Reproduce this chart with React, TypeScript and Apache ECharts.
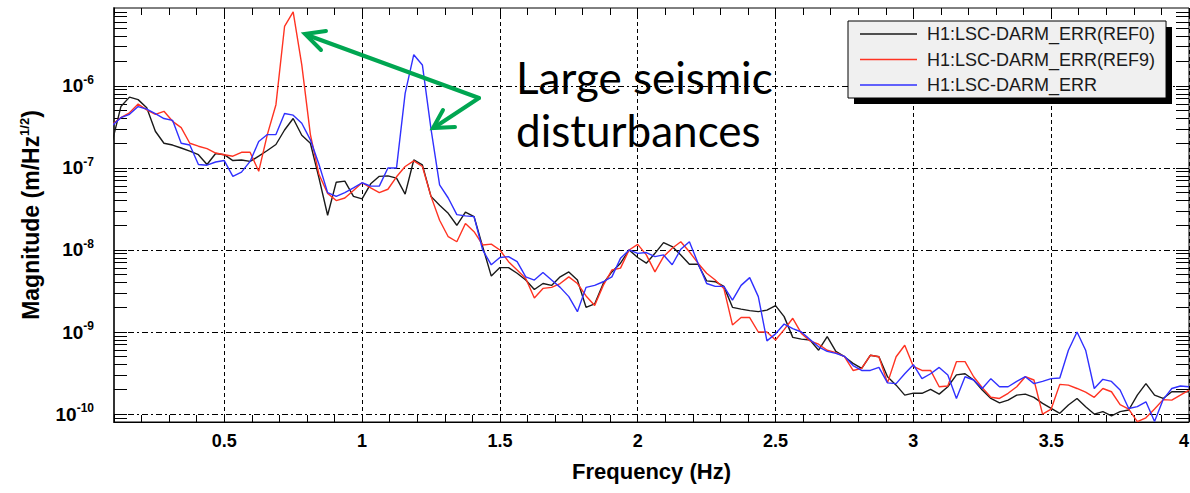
import React, { useEffect, useRef } from 'react';
import * as echarts from 'echarts';

// Spectrum bins: index k -> k/32 Hz, first bin k = 3
const FIRST_BIN = 3;
const BINS_PER_HZ = 32;

const SERIES_NAMES = ['H1:LSC-DARM_ERR(REF0)', 'H1:LSC-DARM_ERR(REF9)', 'H1:LSC-DARM_ERR'];
const SERIES_COLORS = ['#1a1a1a', '#ff3322', '#3030ff'];

const ref0 = [
  2.1e-7, 5.6e-7, 7.3e-7, 6.8e-7, 5.4e-7, 2.8e-7, 2.0e-7, 1.9e-7, 1.75e-7, 1.6e-7,
  1.45e-7, 1.1e-7, 1.5e-7, 1.45e-7, 1.23e-7, 1.25e-7, 1.2e-7, 1.39e-7, 1.63e-7, 1.93e-7,
  2.9e-7, 4.0e-7, 2.5e-7, 2.0e-7, 7.5e-8, 2.65e-8, 6.7e-8, 6.9e-8, 4.5e-8, 4.2e-8,
  6.4e-8, 7.9e-8, 8.0e-8, 7.5e-8, 4.8e-8, 1.25e-7, 1.09e-7, 4.5e-8, 3.5e-8, 2.8e-8,
  2.0e-8, 2.9e-8, 2.55e-8, 1.1e-8, 4.8e-9, 6.1e-9, 6.1e-9, 5.2e-9, 4.3e-9, 3.3e-9,
  3.9e-9, 3.7e-9, 4.7e-9, 5.4e-9, 4.3e-9, 2.0e-9, 2.2e-9, 3.9e-9, 5.4e-9, 6.9e-9,
  1.0e-8, 8.1e-9, 6.9e-9, 9.1e-9, 1.23e-8, 1.1e-8, 8.7e-9, 6.7e-9, 6.7e-9, 4.2e-9,
  4.1e-9, 3.6e-9, 2.0e-9, 1.9e-9, 1.82e-9, 1.77e-9, 1.85e-9, 2.1e-9, 1.54e-9, 8.6e-10,
  8.2e-10, 8.0e-10, 6.0e-10, 8.8e-10, 5.8e-10, 5.0e-10, 4.15e-10, 3.6e-10, 5.2e-10, 5.0e-10,
  2.85e-10, 2.25e-10, 1.7e-10, 1.8e-10, 1.79e-10, 2.0e-10, 1.75e-10, 2.15e-10, 3.0e-10, 3.1e-10,
  2.6e-10, 1.96e-10, 1.55e-10, 1.37e-10, 1.48e-10, 1.7e-10, 1.75e-10, 1.6e-10, 1.35e-10, 1.17e-10,
  1.02e-10, 1.29e-10, 1.55e-10, 1.23e-10, 1.0e-10, 1.07e-10, 9.5e-11, 1.07e-10, 1.12e-10, 1.7e-10,
  2.35e-10, 1.7e-10, 1.55e-10, 1.87e-10, 1.87e-10, 1.87e-10,
];

const ref9 = [
  3.4e-7, 4.1e-7, 4.7e-7, 6.0e-7, 5.1e-7, 4.5e-7, 4.9e-7, 3.7e-7, 3.1e-7, 2.0e-7,
  1.84e-7, 1.72e-7, 1.52e-7, 1.45e-7, 1.39e-7, 1.55e-7, 1.55e-7, 9.1e-8, 2.55e-7, 5.9e-7,
  5.3e-6, 8.0e-6, 1.8e-6, 2.55e-7, 8.3e-8, 4.9e-8, 4.0e-8, 4.3e-8, 5.3e-8, 6.6e-8,
  5.7e-8, 5.0e-8, 5.5e-8, 7.8e-8, 1.04e-7, 1.22e-7, 1.04e-7, 4.5e-8, 2.3e-8, 1.45e-8,
  1.26e-8, 2.1e-8, 1.67e-8, 1.15e-8, 1.18e-8, 1.0e-8, 7.2e-9, 5.7e-9, 4.5e-9, 2.6e-9,
  3.4e-9, 3.5e-9, 3.9e-9, 4.7e-9, 3.9e-9, 2.75e-9, 2.1e-9, 3.7e-9, 5.7e-9, 6.0e-9,
  1.0e-8, 1.17e-8, 8.7e-9, 5.4e-9, 8.3e-9, 1.05e-8, 1.26e-8, 9.5e-9, 6.9e-9, 5.2e-9,
  4.3e-9, 3.4e-9, 1.22e-9, 1.5e-9, 1.5e-9, 1.0e-9, 1.0e-9, 8.0e-10, 1.07e-9, 1.47e-9,
  9.6e-10, 7.8e-10, 7.1e-10, 6.0e-10, 5.6e-10, 5.0e-10, 3.4e-10, 3.6e-10, 5.2e-10, 5.0e-10,
  2.4e-10, 5.0e-10, 6.9e-10, 3.8e-10, 3.4e-10, 3.4e-10, 2.15e-10, 2.2e-10, 4.35e-10, 4.35e-10,
  2.85e-10, 2.1e-10, 1.6e-10, 1.55e-10, 1.79e-10, 2.15e-10, 2.85e-10, 2.6e-10, 1.0e-10, 1.15e-10,
  2.3e-10, 2.25e-10, 2.05e-10, 1.85e-10, 1.6e-10, 2.05e-10, 1.87e-10, 1.3e-10, 1.15e-10, 8.1e-11,
  9.0e-11, 1.15e-10, 1.5e-10, 1.48e-10, 1.7e-10, 1.96e-10,
];

const live = [
  3.3e-7, 4.1e-7, 4.5e-7, 5.6e-7, 5.2e-7, 4.6e-7, 4.0e-7, 3.8e-7, 2.0e-7, 1.9e-7,
  1.1e-7, 1.08e-7, 1.18e-7, 1.23e-7, 7.9e-8, 8.9e-8, 1.2e-7, 2.1e-7, 2.55e-7, 2.55e-7,
  4.6e-7, 4.4e-7, 3.5e-7, 2.2e-7, 1.1e-7, 5.0e-8, 4.5e-8, 5.0e-8, 5.7e-8, 6.6e-8,
  6.0e-8, 6.0e-8, 1.0e-7, 1.0e-7, 8.1e-7, 2.4e-6, 1.8e-6, 3.0e-7, 6.2e-8, 4.3e-8,
  2.7e-8, 2.6e-8, 2.55e-8, 1.0e-8, 6.6e-9, 8.1e-9, 8.3e-9, 7.2e-9, 4.7e-9, 4.3e-9,
  5.3e-9, 4.3e-9, 3.5e-9, 2.7e-9, 1.77e-9, 3.5e-9, 3.7e-9, 4.1e-9, 4.7e-9, 7.9e-9,
  1.0e-8, 9.1e-9, 9.3e-9, 8.3e-9, 8.7e-9, 6.6e-9, 1.02e-8, 1.26e-8, 6.9e-9, 3.9e-9,
  3.6e-9, 3.6e-9, 2.45e-9, 3.7e-9, 4.6e-9, 2.7e-9, 7.8e-10, 9.5e-10, 1.25e-9, 1.1e-9,
  1.0e-9, 8.1e-10, 6.6e-10, 5.8e-10, 5.5e-10, 5.05e-10, 3.9e-10, 3.4e-10, 3.4e-10, 3.7e-10,
  2.4e-10, 2.35e-10, 3.1e-10, 4.0e-10, 2.7e-10, 3.1e-10, 3.7e-10, 3.0e-10, 1.55e-10, 2.85e-10,
  2.6e-10, 2.05e-10, 2.7e-10, 2.15e-10, 2.15e-10, 2.5e-10, 2.85e-10, 2.35e-10, 2.5e-10, 2.7e-10,
  2.75e-10, 6.0e-10, 1.0e-9, 6.0e-10, 2.05e-10, 2.65e-10, 2.5e-10, 1.96e-10, 1.17e-10, 1.23e-10,
  1.41e-10, 8.1e-11, 1.5e-10, 2.05e-10, 2.2e-10, 2.15e-10,
];

const SERIES_VALUES = [ref0, ref9, live];

// Axis definitions
const X_MIN = 0.1;
const X_MAX = 4;
const X_LABELS = [0.5, 1, 1.5, 2, 2.5, 3, 3.5, 4];
const X_MINOR = [
  0.1, 0.2, 0.3, 0.4, 0.5, 0.6, 0.7, 0.8, 0.9, 1.0,
  1.1, 1.2, 1.3, 1.4, 1.5, 1.6, 1.7, 1.8, 1.9, 2.0,
  2.1, 2.2, 2.3, 2.4, 2.5, 2.6, 2.7, 2.8, 2.9, 3.0,
  3.1, 3.2, 3.3, 3.4, 3.5, 3.6, 3.7, 3.8, 3.9, 4.0,
];
const Y_MIN = 8e-11;
const Y_MAX = 8.9e-6;
const Y_DECADES = [1e-10, 1e-9, 1e-8, 1e-7, 1e-6];
const Y_MINOR = [
  8e-11, 9e-11,
  1e-10, 2e-10, 3e-10, 4e-10, 5e-10, 6e-10, 7e-10, 8e-10, 9e-10,
  1e-9, 2e-9, 3e-9, 4e-9, 5e-9, 6e-9, 7e-9, 8e-9, 9e-9,
  1e-8, 2e-8, 3e-8, 4e-8, 5e-8, 6e-8, 7e-8, 8e-8, 9e-8,
  1e-7, 2e-7, 3e-7, 4e-7, 5e-7, 6e-7, 7e-7, 8e-7, 9e-7,
  1e-6, 2e-6, 3e-6, 4e-6, 5e-6, 6e-6, 7e-6, 8e-6,
];

const FONT = "'Liberation Sans', Arial, Helvetica, sans-serif";
const GREEN = '#00a651';

export default function App() {
  const ref = useRef<HTMLDivElement>(null);

  useEffect(() => {
    if (!ref.current) return;
    const chart = echarts.init(ref.current, null, { renderer: 'svg' });

    const freqs = ref0.map((_, i) => (i + FIRST_BIN) / BINS_PER_HZ);

    const minorX = (position: 'top' | 'bottom') => ({
      type: 'value',
      min: X_MIN,
      max: X_MAX,
      position,
      axisLine: { show: false },
      axisTick: { show: true, inside: true, length: 7, customValues: X_MINOR, lineStyle: { color: '#000', width: 1 } },
      axisLabel: { show: false },
      splitLine: { show: false },
    });
    const minorY = (position: 'left' | 'right') => ({
      type: 'log',
      logBase: 10,
      min: Y_MIN,
      max: Y_MAX,
      position,
      axisLine: { show: false },
      axisTick: { show: true, inside: true, length: 13, customValues: Y_MINOR, lineStyle: { color: '#000', width: 1 } },
      axisLabel: { show: false },
      splitLine: { show: false },
    });

    const option: any = {
      animation: false,
      backgroundColor: '#ffffff',
      grid: {
        left: 114,
        top: 8,
        right: 1,
        bottom: 71,
        show: true,
        borderColor: '#000',
        borderWidth: 1,
        backgroundColor: 'transparent',
        containLabel: false,
        outerBoundsMode: 'none',
      },
      legend: {
        orient: 'vertical',
        left: 848,
        top: 21,
        icon: 'rect',
        itemWidth: 57,
        itemHeight: 1.5,
        itemGap: 7.5,
        padding: [4, 11, 4, 12],
        backgroundColor: '#f0f0f0',
        borderColor: '#000',
        borderWidth: 1,
        borderRadius: 0,
        selectedMode: false,
        textStyle: { fontFamily: FONT, fontSize: 18, color: '#1a1a1a', lineHeight: 18, padding: [0, 0, 0, 5] },
        data: SERIES_NAMES,
      },
      xAxis: [
        {
          type: 'value',
          min: X_MIN,
          max: X_MAX,
          position: 'bottom',
          axisLine: { show: true, lineStyle: { color: '#000', width: 1 } },
          axisTick: { show: false, customValues: X_LABELS },
          axisLabel: {
            customValues: X_LABELS,
            margin: 10,
            color: '#000',
            fontSize: 18,
            fontWeight: 'bold',
            fontFamily: FONT,
            alignMaxLabel: 'right',
            formatter: (v: number) => String(v),
          },
          splitLine: { show: true, lineStyle: { color: '#000', type: [4, 3], width: 1 } },
          name: 'Frequency (Hz)',
          nameLocation: 'middle',
          nameGap: 38,
          nameTextStyle: { fontFamily: FONT, fontSize: 22, fontWeight: 'bold', color: '#000' },
        },
        minorX('bottom'),
        minorX('top'),
      ],
      yAxis: [
        {
          type: 'log',
          logBase: 10,
          min: Y_MIN,
          max: Y_MAX,
          position: 'left',
          axisLine: { show: true, lineStyle: { color: '#333', width: 2 } },
          axisTick: { show: false, customValues: Y_DECADES },
          axisLabel: {
            customValues: Y_DECADES,
            margin: 20,
            formatter: (v: number) => {
              const e = Math.log10(v);
              const r = Math.round(e);
              if (Math.abs(e - r) > 0.01) return '';
              return `{b|10}{s|${r}}`;
            },
            rich: {
              b: { fontFamily: FONT, fontSize: 19, fontWeight: 'bold', color: '#000', lineHeight: 24 },
              s: { fontFamily: FONT, fontSize: 12, fontWeight: 'bold', color: '#000', lineHeight: 13, verticalAlign: 'top' },
            },
          },
          splitLine: { show: true, lineStyle: { color: '#000', type: [6, 3, 2, 3], width: 1 } },
          name: '{a|Magnitude (m/Hz}{s|1/2}{a|)}',
          nameLocation: 'middle',
          nameRotate: 90,
          nameGap: 70,
          nameTextStyle: {
            rich: {
              a: { fontFamily: FONT, fontSize: 23, fontWeight: 'bold', color: '#000', lineHeight: 26 },
              s: { fontFamily: FONT, fontSize: 13, fontWeight: 'bold', color: '#000', lineHeight: 14, verticalAlign: 'top' },
            },
          },
        },
        minorY('left'),
        minorY('right'),
      ],
      series: SERIES_NAMES.map((name, si) => ({
        type: 'line',
        name,
        xAxisIndex: 0,
        yAxisIndex: 0,
        showSymbol: false,
        symbol: 'none',
        clip: true,
        data: freqs.map((f, i) => [f, SERIES_VALUES[si][i]]),
        lineStyle: { color: SERIES_COLORS[si], width: 1.4 },
        itemStyle: { color: SERIES_COLORS[si] },
      })),
      graphic: [
        { type: 'rect', z: 1, shape: { x: 854, y: 27, width: 318, height: 77 }, style: { fill: '#000' } },
        {
          type: 'text', z: 10, x: 516, y: 77,
          style: { text: 'Large seismic', font: '44px Lato, sans-serif', fill: '#000', align: 'left', verticalAlign: 'middle' },
        },
        {
          type: 'text', z: 10, x: 516, y: 130,
          style: { text: 'disturbances', font: '44px Lato, sans-serif', fill: '#000', align: 'left', verticalAlign: 'middle' },
        },
        {
          type: 'polyline', z: 10,
          shape: { points: [[479, 98], [307, 35]] },
          style: { stroke: GREEN, lineWidth: 4, fill: null, lineCap: 'round' },
        },
        {
          type: 'polyline', z: 10,
          shape: { points: [[326, 31], [305, 34], [321, 50]] },
          style: { stroke: GREEN, lineWidth: 4, fill: null, lineCap: 'round', lineJoin: 'miter' },
        },
        {
          type: 'polyline', z: 10,
          shape: { points: [[479, 98], [435, 127]] },
          style: { stroke: GREEN, lineWidth: 4, fill: null, lineCap: 'round' },
        },
        {
          type: 'polyline', z: 10,
          shape: { points: [[455, 127], [433, 128], [443, 110]] },
          style: { stroke: GREEN, lineWidth: 4, fill: null, lineCap: 'round', lineJoin: 'miter' },
        },
      ],
    };

    chart.setOption(option);
    return () => {
      chart.dispose();
    };
  }, []);

  return (
    <div
      ref={ref}
      style={{ position: 'fixed', left: 0, top: 0, width: 1190, height: 493, background: '#fff' }}
    />
  );
}
